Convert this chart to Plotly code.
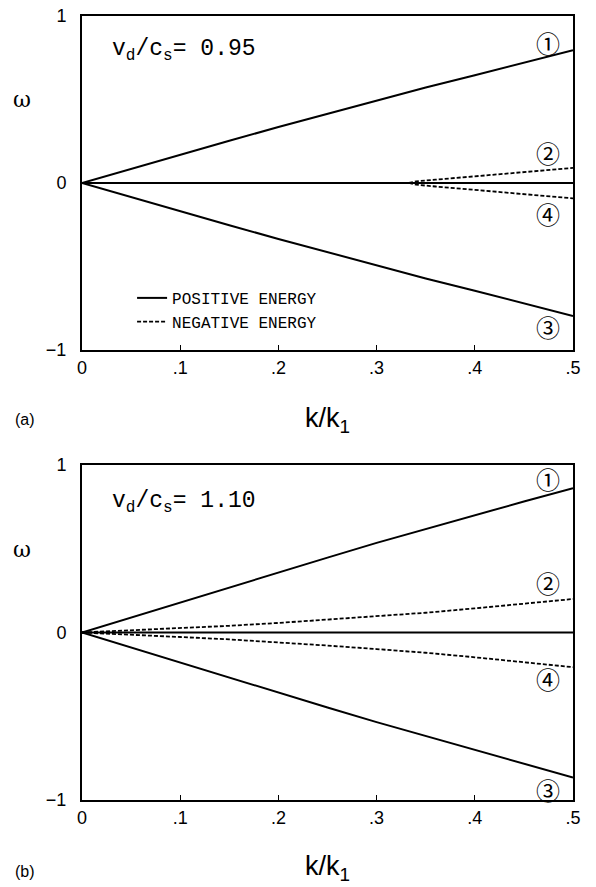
import plotly.graph_objects as go
from plotly.subplots import make_subplots

# wavenumber grid k/k1
k = [0, 0.05, 0.1, 0.15, 0.2, 0.25, 0.3, 0.35, 0.4, 0.45, 0.5]
zero_mode = [0, 0, 0, 0, 0, 0, 0, 0, 0, 0, 0]

# (a) vd/cs = 0.95
mode1_a = [0, 0.085, 0.17, 0.253, 0.335, 0.415, 0.495, 0.572, 0.645, 0.72, 0.795]
mode3_a = [0, -0.085, -0.17, -0.253, -0.335, -0.415, -0.495, -0.572, -0.645, -0.72, -0.797]
k_branch_a = [0.333, 0.34, 0.36, 0.38, 0.4, 0.45, 0.5]
mode2_a = [0, 0.01, 0.02, 0.03, 0.04, 0.064, 0.09]
mode4_a = [0, -0.01, -0.021, -0.031, -0.041, -0.065, -0.092]

# (b) vd/cs = 1.10
mode1_b = [0, 0.09, 0.18, 0.27, 0.36, 0.447, 0.535, 0.618, 0.70, 0.782, 0.862]
mode3_b = [0, -0.09, -0.18, -0.27, -0.36, -0.448, -0.535, -0.618, -0.70, -0.785, -0.866]
mode2_b = [0, 0.012, 0.026, 0.04, 0.057, 0.076, 0.097, 0.118, 0.144, 0.171, 0.2]
mode4_b = [0, -0.012, -0.027, -0.041, -0.058, -0.078, -0.099, -0.121, -0.148, -0.176, -0.207]

x_ticks = [0, 0.1, 0.2, 0.3, 0.4, 0.5]
x_ticktext = ["0", ".1", ".2", ".3", ".4", ".5"]
y_ticks = [-1, 0, 1]
y_ticktext = ["\u22121", "0", "1"]
mode_labels = ["\u2460", "\u2461", "\u2463", "\u2462"]

SOLID = dict(color="black", width=2)
DASHED = dict(color="black", width=1.8, dash="4px,2px")

fig = make_subplots(rows=2, cols=1)

def add_panel(row, m1, m3, kb, m2, m4, legend):
    fig.add_trace(go.Scatter(x=k, y=zero_mode, mode="lines", line=SOLID,
                             showlegend=False), row=row, col=1)
    fig.add_trace(go.Scatter(x=k, y=m1, mode="lines", line=SOLID,
                             name="POSITIVE ENERGY", showlegend=legend,
                             legendrank=1), row=row, col=1)
    fig.add_trace(go.Scatter(x=k, y=m3, mode="lines", line=SOLID,
                             showlegend=False), row=row, col=1)
    fig.add_trace(go.Scatter(x=kb, y=m2, mode="lines", line=DASHED,
                             name="NEGATIVE ENERGY", showlegend=legend,
                             legendrank=2), row=row, col=1)
    fig.add_trace(go.Scatter(x=kb, y=m4, mode="lines", line=DASHED,
                             showlegend=False), row=row, col=1)

add_panel(1, mode1_a, mode3_a, k_branch_a, mode2_a, mode4_a, True)
add_panel(2, mode1_b, mode3_b, k, mode2_b, mode4_b, False)

axis_common = dict(showgrid=False, zeroline=False, showline=True, automargin=False,
                   linecolor="black", linewidth=2, mirror=True,
                   tickfont=dict(family="Liberation Sans", size=18, color="black"))

fig.update_xaxes(range=[0, 0.5], tickvals=x_ticks, ticktext=x_ticktext,
                 ticks="inside", ticklen=5, tickcolor="black", **axis_common)
fig.update_yaxes(range=[-1, 1], tickvals=y_ticks, ticktext=y_ticktext,
                 ticks="", ticklabelstandoff=10, **axis_common)

fig.update_layout(
    width=596, height=887,
    margin=dict(l=82, r=23, t=16, b=87),
    paper_bgcolor="white", plot_bgcolor="white",
    xaxis=dict(domain=[0, 1], anchor="y"),
    yaxis=dict(domain=[0.574, 1.0], anchor="x"),
    xaxis2=dict(domain=[0, 1], anchor="y2"),
    yaxis2=dict(domain=[0.0, 0.4273], anchor="x2"),
    legend=dict(x=0.102, y=0.662, xanchor="left", yanchor="top",
                bgcolor="rgba(0,0,0,0)", tracegroupgap=0,
                font=dict(family="Liberation Mono", size=16, color="black")),
)

def note(**kw):
    kw.setdefault("xanchor", "center")
    kw.setdefault("yanchor", "middle")
    fig.add_annotation(showarrow=False, **kw)

# panel labels, axis titles, omega labels
for yp_title, label, yp_omega in [(0.4847, "(a)", 0.893), (-0.0865, "(b)", 0.319)]:
    note(x=0.501, y=yp_title, xref="paper", yref="paper", text="k/k<sub>1</sub>",
         font=dict(family="Liberation Sans", size=27, color="black"))
    note(x=-0.116, y=yp_title if label == "(a)" else -0.0918, xref="paper", yref="paper",
         text=label, font=dict(family="Liberation Sans", size=16, color="black"))
    note(x=-0.122, y=yp_omega, xref="paper", yref="paper", text="\u03c9",
         font=dict(family="DejaVu Serif", size=22, color="black"))

# parameter label and circled mode numbers in each panel
for xr, yr, txt, yt, ys in [("x domain", "y domain", "0.95", 0.898, [0.922, 0.59, 0.41, 0.069]),
                            ("x2 domain", "y2 domain", "1.10", 0.887, [0.961, 0.648, 0.364, 0.03])]:
    note(x=0.057, y=yt, xref=xr, yref=yr, xanchor="left",
         text="v<sub>d</sub>/c<sub>s</sub>= " + txt,
         font=dict(family="Liberation Mono", size=23, color="black"))
    for lab, yv in zip(mode_labels, ys):
        note(x=0.949, y=yv, xref=xr, yref=yr, text=lab,
             font=dict(family="Noto Sans CJK JP", size=24, color="black"))

# drop the default 8px page margin so the figure fills the window exactly
fig.write_html("out.html", config={"displayModeBar": False},
               post_script="document.body.style.margin='0';document.body.style.overflow='hidden';")
